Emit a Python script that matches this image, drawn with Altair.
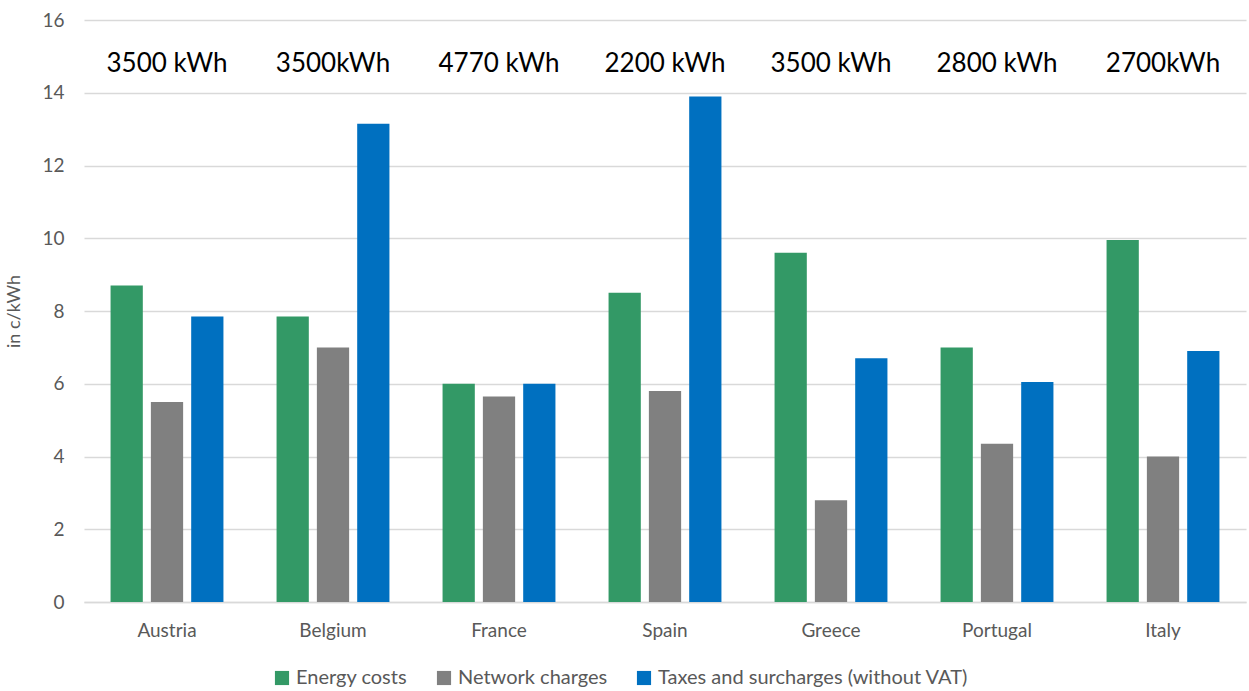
import altair as alt
import pandas as pd

countries = ["Austria", "Belgium", "France", "Spain", "Greece", "Portugal", "Italy"]
consumption = ["3500 kWh", "3500kWh", "4770 kWh", "2200 kWh", "3500 kWh", "2800 kWh", "2700kWh"]
series = ["Energy costs", "Network charges", "Taxes and surcharges (without VAT)"]
energy = [8.7, 7.85, 6.0, 8.5, 9.6, 7.0, 9.95]
network = [5.5, 7.0, 5.65, 5.8, 2.8, 4.35, 4.0]
taxes = [7.85, 13.15, 6.0, 13.9, 6.7, 6.05, 6.9]
colors = ["#339966", "#808080", "#0070C0"]
label_level = 14.8

rows = []
for i, c in enumerate(countries):
    for s, vals in zip(series, [energy, network, taxes]):
        rows.append({"country": c, "series": s, "value": vals[i]})
df = pd.DataFrame(rows)
lab = pd.DataFrame({"country": countries, "text": consumption, "y": [label_level] * len(countries)})

FONT = "Lato"

x_enc = alt.X("country:N", sort=countries, title=None,
              scale=alt.Scale(paddingInner=0.32, paddingOuter=0.16),
              axis=alt.Axis(labelAngle=0, labelFontSize=19, labelColor="#595959",
                            labelPadding=19, ticks=False, domainColor="#d9d9d9",
                            domainWidth=1.5, labelFont=FONT))

bars = alt.Chart(df).mark_bar().encode(
    x=x_enc,
    xOffset=alt.XOffset("series:N", sort=series, scale=alt.Scale(paddingInner=0.2)),
    y=alt.Y("value:Q", title="in c/kWh",
            scale=alt.Scale(domain=[0, 16]),
            axis=alt.Axis(values=[0, 2, 4, 6, 8, 10, 12, 14, 16], domain=False, ticks=False,
                          labelFontSize=19, labelColor="#595959", labelPadding=20,
                          gridColor="#d9d9d9", gridWidth=1.5,
                          titleFontSize=18, titleColor="#595959", titleFontWeight="normal",
                          titleFont=FONT, labelFont=FONT, titlePadding=18)),
    color=alt.Color("series:N", sort=series,
                    scale=alt.Scale(domain=series, range=colors),
                    legend=alt.Legend(orient="none", legendX=188, legendY=648,
                                      title=None, direction="horizontal",
                                      labelFontSize=20, labelColor="#595959", labelFont=FONT,
                                      labelLimit=400,
                                      symbolType="square", symbolSize=200,
                                      symbolStrokeWidth=0, columnPadding=26)),
)

texts = alt.Chart(lab).mark_text(fontSize=26, color="#000000", font=FONT).encode(
    x=alt.X("country:N", sort=countries),
    y=alt.Y("y:Q"),
    text="text:N",
)

chart = alt.layer(bars, texts).properties(
    width=1162, height=582,
    autosize=alt.AutoSizeParams(type="none"),
    padding={"left": 84, "top": 20, "right": 3, "bottom": 89},
).configure_view(stroke=None)

chart.save("out.html", embed_options={"renderer": "svg", "actions": False})
